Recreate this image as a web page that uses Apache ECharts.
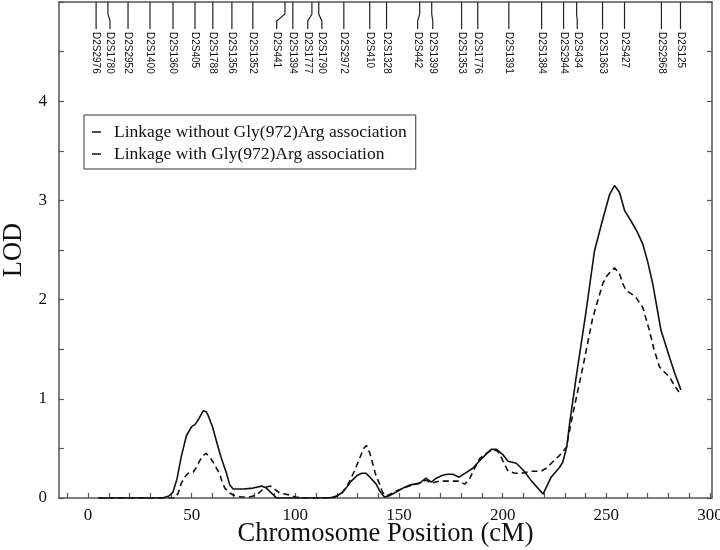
<!DOCTYPE html>
<html>
<head>
<meta charset="utf-8">
<script src="https://cdn.jsdelivr.net/npm/echarts@6/dist/echarts.min.js"></script>
<style>html,body{margin:0;padding:0;background:#fff}#c{width:720px;height:550px}</style>
</head>
<body>
<div id="c"></div>
<script>
// Solid curve: Linkage without Gly(972)Arg association  [cM, LOD]
const withoutPos = [5,10,20,30,36,39,41,43,45,47.5,50,51.6,53.5,55.6,57,58,60,62,64,66.8,68.4,70,75,79.6,83.7,86,88,91,100,110,116.6,120,123,127,130,132,134,136,139,141,143,145,148.7,152,155,160,163,165.6,168,171,173.5,176,179,182,185.6,190,194.5,197,200,202.6,206.6,210,214,219.5,223.4,227.5,229,231,232.3,235.5,240.3,244.3,248.3,251.6,254,256.4,258.8,262,265,267.6,270,272.4,276.4,280.5,283,286];
const withoutLOD = [0,0,0,0,0,0.02,0.06,0.2,0.42,0.63,0.72,0.74,0.8,0.88,0.87,0.83,0.72,0.57,0.42,0.25,0.13,0.09,0.09,0.1,0.12,0.1,0.06,0,0,0,0,0.02,0.06,0.17,0.23,0.25,0.25,0.21,0.14,0.06,0.01,0.02,0.06,0.1,0.13,0.15,0.2,0.16,0.2,0.23,0.24,0.24,0.21,0.25,0.3,0.4,0.49,0.49,0.44,0.37,0.35,0.28,0.17,0.04,0.21,0.31,0.36,0.52,0.75,1.22,1.89,2.49,2.81,3.06,3.15,3.08,2.9,2.79,2.68,2.56,2.38,2.16,1.69,1.42,1.26,1.09];
// Dashed curve: Linkage with Gly(972)Arg association  [cM, LOD]
const withPos = [5,20,35,42,43.5,45,47,48.3,50.7,52,54,55.6,57,58.8,60.4,62,63.6,64.4,66,68.4,70,74,78,81.3,84,86,88,90,92.5,97.3,100,105,118,122,125,128.7,131,133,134.3,136,138.3,139,140.7,142,144,148.7,152,155,160,163,165.6,169.6,176,179,181.7,184,186,189,192,194.5,197,198.5,200,202.6,206,209,214,218.6,221,224,227.5,230.7,233.9,238.7,243.5,245.9,248.3,250,251.6,254,256.4,258,259.6,262,264.4,267.6,270.8,273,275.7,278,280.5,283,286];
const withLOD = [0,0,0,0,0.05,0.15,0.22,0.25,0.26,0.3,0.38,0.43,0.45,0.41,0.36,0.3,0.24,0.18,0.1,0.05,0.03,0.01,0.01,0.03,0.08,0.11,0.12,0.09,0.05,0.03,0.01,0,0,0.04,0.12,0.28,0.4,0.5,0.53,0.45,0.27,0.22,0.14,0.06,0.02,0.07,0.1,0.12,0.15,0.18,0.15,0.17,0.17,0.17,0.14,0.19,0.28,0.4,0.45,0.48,0.48,0.45,0.38,0.27,0.25,0.25,0.27,0.27,0.3,0.36,0.43,0.51,0.85,1.32,1.82,1.99,2.16,2.23,2.27,2.32,2.26,2.16,2.09,2.06,2.02,1.92,1.69,1.5,1.32,1.27,1.22,1.13,1.04];
// Markers along the top
const markerNames = ['D2S2976','D2S1780','D2S2952','D2S1400','D2S1360','D2S405','D2S1788','D2S1356','D2S1352','D2S441','D2S1394','D2S1777','D2S1790','D2S2972','D2S410','D2S1328','D2S442','D2S1399','D2S1353','D2S1776','D2S1391','D2S1384','D2S2944','D2S434','D2S1363','D2S427','D2S2968','D2S125'];
const markerPos = [3.9,9.6,19.3,29.9,41,51.6,60.2,69.4,79.5,95,98.8,108,111.3,123.4,135.9,144,160,165.8,180.2,188,203,218.8,229.4,235.7,248.2,258.8,276.6,285.8];
const markerLabelPos = [3.9,10.6,19.3,29.9,41,51.6,60.2,69.4,79.5,91,98.8,106,112.8,123.4,135.9,144,159,166.3,180.2,188,203,218.8,229.4,236,248.2,258.8,276.6,285.8];
const xTickValues = [-10,0,10,20,30,40,50,60,70,80,90,100,110,120,130,140,150,160,170,180,190,200,210,220,230,240,250,260,270,280,290,300];
const xLabelValues = [0,50,100,150,200,250,300];
const seriesNames = ['Linkage without Gly(972)Arg association','Linkage with Gly(972)Arg association'];

const zip = (a,b) => a.map((v,i)=>[v,b[i]]);
const serif = 'Liberation Serif, Times New Roman, serif';
const axisColor = '#555';

const chart = echarts.init(document.getElementById('c'));
chart.setOption({
  animation: false,
  backgroundColor: '#fff',
  grid: {left: 59, right: 8, top: 2, bottom: 52, containLabel: false, outerBoundsMode: 'none'},
  legend: {
    data: seriesNames,
    orient: 'vertical',
    left: 84, top: 115,
    borderColor: '#333', borderWidth: 1,
    padding: [8, 9, 6, 8],
    icon: 'rect',
    itemWidth: 9, itemHeight: 1.6, itemGap: 4,
    itemStyle: {color: '#222'},
    textStyle: {fontFamily: serif, fontSize: 17.5, color: '#111', padding: [0,0,0,8], lineHeight: 18}
  },
  xAxis: [{
    type: 'value', min: -14, max: 301, position: 'bottom',
    name: 'Chromosome Position (cM)', nameLocation: 'middle', nameGap: 23, nameMoveOverlap: false,
    nameTextStyle: {fontFamily: serif, fontSize: 26.5, color: '#111'},
    axisLine: {show: true, onZero: false, lineStyle: {color: axisColor, width: 1.5}},
    axisTick: {show: true, inside: true, length: 5, customValues: xTickValues, lineStyle: {color: axisColor, width: 1.2}},
    axisLabel: {customValues: xLabelValues, fontFamily: serif, fontSize: 17, color: '#111', margin: 9},
    splitLine: {show: false}
  }, {
    type: 'value', min: -14, max: 301, position: 'top',
    axisLine: {show: true, onZero: false, lineStyle: {color: axisColor, width: 1.5}},
    axisTick: {show: false}, axisLabel: {show: false}, splitLine: {show: false}
  }],
  yAxis: [{
    type: 'value', min: 0, max: 5, interval: 0.5, position: 'left',
    name: 'LOD', nameLocation: 'middle', nameGap: 31, nameMoveOverlap: false,
    nameTextStyle: {fontFamily: serif, fontSize: 26.5, color: '#111'},
    axisLine: {show: true, onZero: false, lineStyle: {color: axisColor, width: 1.5}},
    axisTick: {show: true, inside: true, length: 5, lineStyle: {color: axisColor, width: 1.2}},
    axisLabel: {fontFamily: serif, fontSize: 17, color: '#111', margin: 12,
      formatter: v => (Math.abs(v - Math.round(v)) < 1e-9 && v < 5) ? String(Math.round(v)) : ''},
    splitLine: {show: false}
  }, {
    type: 'value', min: 0, max: 5, interval: 0.5, position: 'right',
    axisLine: {show: true, onZero: false, lineStyle: {color: axisColor, width: 1.5}},
    axisTick: {show: true, inside: true, length: 5, lineStyle: {color: axisColor, width: 1.2}},
    axisLabel: {show: false}, splitLine: {show: false}
  }],
  series: [{
    name: seriesNames[0], type: 'line', data: zip(withoutPos, withoutLOD),
    symbol: 'none', smooth: false,
    lineStyle: {color: '#111', width: 1.6, type: 'solid'},
    itemStyle: {color: '#111'}
  }, {
    name: seriesNames[1], type: 'line', data: zip(withPos, withLOD),
    symbol: 'none', smooth: false,
    lineStyle: {color: '#111', width: 1.6, type: [6, 4]},
    itemStyle: {color: '#111'}
  }, {
    name: 'markers', type: 'custom', clip: false, silent: true,
    data: markerNames.map((n,i)=>({name: n, value: [markerPos[i], 0, markerLabelPos[i]]})),
    encode: {x: 0, y: 1},
    renderItem: function (params, api) {
      const x = api.coord([api.value(0), 0])[0];
      const lx = api.coord([api.value(2), 0])[0];
      const top = params.coordSys.y;
      const name = markerNames[params.dataIndex];
      return {
        type: 'group',
        children: [{
          type: 'polyline',
          shape: {points: [[x, top], [x, top + 12], [lx, top + 19], [lx, top + 27]]},
          style: {stroke: '#222', lineWidth: 1.2, fill: null}
        }, {
          type: 'text',
          x: lx, y: top + 30,
          rotation: -Math.PI / 2,
          style: {text: name, x: 0, y: 0, align: 'left', verticalAlign: 'middle',
            font: '10px "Liberation Sans", Arial, sans-serif', fill: '#111'}
        }]
      };
    }
  }]
});
</script>
</body>
</html>
